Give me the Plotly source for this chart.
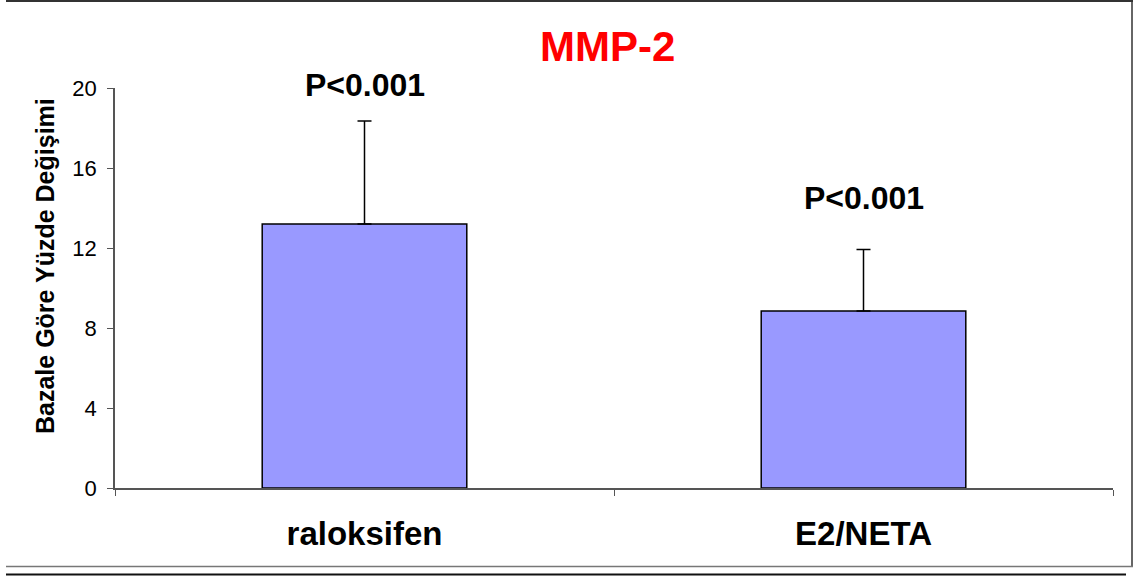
import plotly.graph_objects as go

categories = ["raloksifen", "E2/NETA"]
values = [13.2, 8.85]
errors_plus = [5.15, 3.07]
p_labels = ["P&lt;0.001", "P&lt;0.001"]
p_label_y = [20.15, 14.5]
y_ticks = [0, 4, 8, 12, 16, 20]
y_range = [0, 20]

FONT = "Arial, Liberation Sans, sans-serif"

L, R, T, B = 115, 1113, 88, 488
W, H = R - L, B - T
def px(x): return (x - L) / W
def py(y): return (B - y) / H

fig = go.Figure()
fig.add_trace(go.Bar(
    x=categories, y=values, width=0.41,
    marker=dict(color="#9999FF", line=dict(color="#000000", width=1.5)),
    error_y=dict(type="data", symmetric=False, array=errors_plus, arrayminus=[0, 0],
                 color="#000000", thickness=1.5, width=7),
    showlegend=False, hoverinfo="skip",
))

for c, t, y in zip(categories, p_labels, p_label_y):
    fig.add_annotation(x=c, y=(y - y_range[0]) / (y_range[1] - y_range[0]),
                       text="<b>" + t + "</b>", showarrow=False, xref="x", yref="paper",
                       font=dict(family=FONT, size=32, color="#000000"),
                       yanchor="middle")

fig.add_annotation(x=px(607), y=py(46), xref="paper", yref="paper",
                   text="<b>MMP-2</b>", showarrow=False,
                   font=dict(family=FONT, size=42, color="#FF0000"), yanchor="middle")

fig.add_annotation(x=px(45), y=py(266), xref="paper", yref="paper", textangle=-90,
                   text="<b>Bazale Göre Yüzde Değişimi</b>", showarrow=False,
                   font=dict(family=FONT, size=25, color="#000000"),
                   xanchor="center", yanchor="middle")

line_dark = dict(color="#333333", width=2)
shapes = [
    dict(type="line", xref="paper", yref="paper", x0=px(6), x1=px(1133), y0=py(1), y1=py(1), line=line_dark),
    dict(type="line", xref="paper", yref="paper", x0=px(1132), x1=px(1132), y0=py(1), y1=py(566), line=dict(color="#333333", width=1.5)),
    dict(type="line", xref="paper", yref="paper", x0=px(6), x1=px(1133), y0=py(566.5), y1=py(566.5), line=dict(color="#777777", width=1.5)),
    dict(type="line", xref="paper", yref="paper", x0=px(6), x1=px(1126), y0=py(574.5), y1=py(574.5), line=dict(color="#111111", width=2)),
]

fig.update_layout(
    width=1139, height=576,
    margin=dict(l=L, r=1139 - R, t=T, b=576 - B, pad=0, autoexpand=False),
    paper_bgcolor="white", plot_bgcolor="white",
    font=dict(family=FONT, color="#000000"),
    shapes=shapes,
    xaxis=dict(
        type="category", tickson="boundaries", ticks="outside", ticklen=6, tickcolor="#555555",
        showline=True, linecolor="#555555", linewidth=1.5, showgrid=False,
        tickfont=dict(family=FONT, size=33, color="#000000"),
        tickvals=categories, ticktext=["<b>" + c + "</b>" for c in categories],
        ticklabelstandoff=16, automargin=False,
    ),
    yaxis=dict(
        range=y_range, tickvals=y_ticks, ticks="outside", ticklen=6, tickcolor="#555555",
        showline=True, linecolor="#555555", linewidth=1.5, showgrid=False, zeroline=False,
        tickfont=dict(family=FONT, size=22, color="#000000"),
        ticklabelstandoff=6, automargin=False,
    ),
)

fig.write_html("out.html", config={"displayModeBar": False},
               post_script="document.body.style.margin='0';")
